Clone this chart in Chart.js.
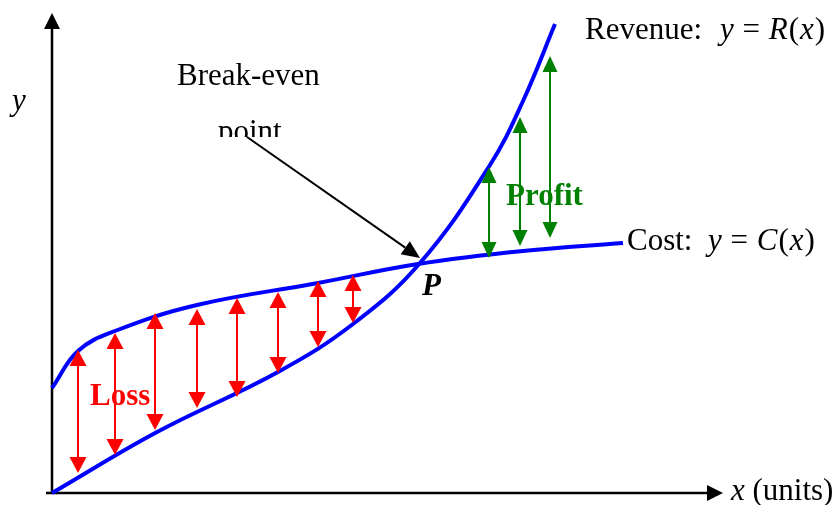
<!DOCTYPE html>
<html>
<head>
<meta charset="utf-8">
<script src="https://cdn.jsdelivr.net/npm/chart.js@4"></script>
<style>
  html, body { margin: 0; padding: 0; background: #ffffff; }
  #chart { display: block; }
</style>
</head>
<body>
<canvas id="chart" width="838" height="505"></canvas>
<script>
// Cost curve y = C(x)
const costX = [0, 26, 63, 145, 266, 366, 471, 571];
const costY = [105, 142, 162, 188, 210, 229, 242, 250];

// Revenue curve y = R(x)
const revenueX = [0, 105, 226, 301, 368, 438, 471, 503];
const revenueY = [0, 61, 121, 169, 230, 328, 392, 469];

// Loss arrows (cost above revenue)
const lossX = [26, 63, 103, 145, 185, 226, 266, 301];
const lossTop = [143, 160, 180, 184, 195, 201, 212, 218];
const lossBottom = [20, 38, 63, 85, 96, 120, 146, 170];

// Profit arrows (revenue above cost)
const profitX = [437, 468, 498];
const profitTop = [326, 376, 437];
const profitBottom = [235, 247, 255];

// Break-even pointer
const pointerFrom = [195, 356];
const pointerTo = [368, 235];

// Axis extents
const xAxisEnd = 671;
const yAxisEnd = 480;

const SERIF = "'Liberation Serif', 'Times New Roman', serif";
const FONT_SIZE = 31;

function toPoints(xs, ys) {
  return xs.map((x, i) => ({ x: x, y: ys[i] }));
}

// Filled triangle head at (x2, y2), pointing away from (x1, y1)
function arrowHead(ctx, x1, y1, x2, y2, len, half) {
  const a = Math.atan2(y2 - y1, x2 - x1);
  const bx = x2 - len * Math.cos(a);
  const by = y2 - len * Math.sin(a);
  ctx.beginPath();
  ctx.moveTo(x2, y2);
  ctx.lineTo(bx + half * Math.sin(a), by - half * Math.cos(a));
  ctx.lineTo(bx - half * Math.sin(a), by + half * Math.cos(a));
  ctx.closePath();
  ctx.fill();
  return [bx, by];
}

function singleArrow(ctx, x1, y1, x2, y2, color, width, len, half) {
  ctx.strokeStyle = color;
  ctx.fillStyle = color;
  ctx.lineWidth = width;
  const b = arrowHead(ctx, x1, y1, x2, y2, len, half);
  ctx.beginPath();
  ctx.moveTo(x1, y1);
  ctx.lineTo(b[0], b[1]);
  ctx.stroke();
}

function doubleArrow(ctx, x1, y1, x2, y2, color, width, len, half) {
  ctx.strokeStyle = color;
  ctx.fillStyle = color;
  ctx.lineWidth = width;
  const b1 = arrowHead(ctx, x2, y2, x1, y1, len, half);
  const b2 = arrowHead(ctx, x1, y1, x2, y2, len, half);
  ctx.beginPath();
  ctx.moveTo(b1[0], b1[1]);
  ctx.lineTo(b2[0], b2[1]);
  ctx.stroke();
}

// Draw mixed upright / italic text runs
function drawRuns(ctx, runs, x, y, color, gap) {
  ctx.fillStyle = color;
  ctx.textBaseline = 'alphabetic';
  ctx.textAlign = 'left';
  let cx = x;
  runs.forEach(r => {
    ctx.font = (r[1] ? r[1] + ' ' : '') + FONT_SIZE + 'px ' + SERIF;
    ctx.fillText(r[0], cx, y);
    cx += ctx.measureText(r[0]).width + (gap || 0);
  });
}

const diagramPlugin = {
  id: 'diagram',
  beforeDatasetsDraw(chart) {
    const ctx = chart.ctx;
    const xs = chart.scales.x;
    const ys = chart.scales.y;
    const px = v => xs.getPixelForValue(v);
    const py = v => ys.getPixelForValue(v);
    ctx.save();

    // axes
    singleArrow(ctx, px(-6), py(0), px(xAxisEnd), py(0), '#000000', 2.5, 16, 8);
    singleArrow(ctx, px(0), py(-1), px(0), py(yAxisEnd), '#000000', 2.5, 16, 8);

    // labels
    drawRuns(ctx, [['y', 'italic']], px(-40), py(383), '#000000');
    drawRuns(ctx, [['Break-even', '']], px(125), py(408), '#000000');

    ctx.save();
    ctx.beginPath();
    ctx.rect(0, 0, chart.width, py(356));
    ctx.clip();
    drawRuns(ctx, [['point', '']], px(166), py(352), '#000000');
    ctx.restore();

    drawRuns(ctx, [['Revenue:', '']], px(533), py(454), '#000000');
    drawRuns(ctx, [['y', 'italic'], [' = ', ''], ['R', 'italic'], ['(', ''], ['x', 'italic'], [')', '']],
      px(668), py(454), '#000000', 1);
    drawRuns(ctx, [['Cost:', '']], px(575), py(243), '#000000');
    drawRuns(ctx, [['y', 'italic'], [' = ', ''], ['C', 'italic'], ['(', ''], ['x', 'italic'], [')', '']],
      px(656), py(243), '#000000', 1);

    drawRuns(ctx, [['Profit', 'bold']], px(454), py(288), '#008000');
    drawRuns(ctx, [['Loss', 'bold']], px(38), py(88), '#ff0000');
    drawRuns(ctx, [['P', 'italic bold']], px(370), py(198), '#000000');
    drawRuns(ctx, [['x', 'italic'], [' (units)', '']], px(679), py(-7), '#000000');

    ctx.restore();
  },
  afterDatasetsDraw(chart) {
    const ctx = chart.ctx;
    const xs = chart.scales.x;
    const ys = chart.scales.y;
    const px = v => xs.getPixelForValue(v);
    const py = v => ys.getPixelForValue(v);
    ctx.save();

    lossX.forEach((x, i) => {
      doubleArrow(ctx, px(x), py(lossTop[i]), px(x), py(lossBottom[i]), '#ff0000', 2, 16, 8.5);
    });
    profitX.forEach((x, i) => {
      doubleArrow(ctx, px(x), py(profitTop[i]), px(x), py(profitBottom[i]), '#008000', 2, 16, 7.5);
    });

    singleArrow(ctx, px(pointerFrom[0]), py(pointerFrom[1]), px(pointerTo[0]), py(pointerTo[1]),
      '#000000', 2, 18, 8);

    ctx.restore();
  }
};

new Chart(document.getElementById('chart'), {
  type: 'scatter',
  data: {
    datasets: [
      {
        label: 'Cost',
        data: toPoints(costX, costY),
        showLine: true,
        borderColor: '#0000ff',
        borderWidth: 4,
        pointRadius: 0,
        tension: 0.4,
        clip: false
      },
      {
        label: 'Revenue',
        data: toPoints(revenueX, revenueY),
        showLine: true,
        borderColor: '#0000ff',
        borderWidth: 4,
        pointRadius: 0,
        tension: 0.4,
        clip: false
      }
    ]
  },
  options: {
    responsive: false,
    animation: false,
    layout: { padding: 0 },
    plugins: {
      legend: { display: false },
      tooltip: { enabled: false }
    },
    scales: {
      x: { type: 'linear', min: -52, max: 786, display: false },
      y: { type: 'linear', min: -12, max: 493, display: false }
    }
  },
  plugins: [diagramPlugin]
});
</script>
</body>
</html>
